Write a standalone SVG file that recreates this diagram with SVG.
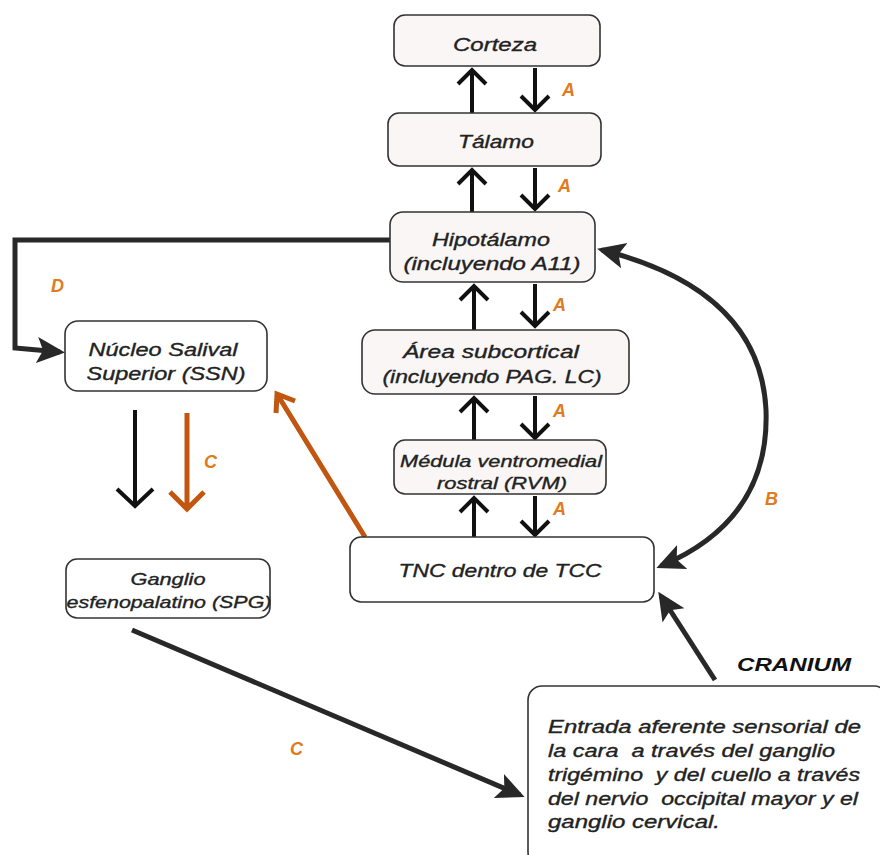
<svg xmlns="http://www.w3.org/2000/svg" width="880" height="855" viewBox="0 0 880 855">
<defs>
<style>
.box{fill:#f9f6f5;stroke:#333;stroke-width:1.6}
.wbox{fill:#fff;stroke:#333;stroke-width:1.6}
.t{font-family:"Liberation Sans",Arial,sans-serif;font-style:italic;font-size:18px;fill:#222;stroke:#222;stroke-width:0.35;text-anchor:middle}
.tl{font-family:"Liberation Sans",Arial,sans-serif;font-style:italic;font-size:18px;fill:#222;stroke:#222;stroke-width:0.35}
.lbl{font-family:"Liberation Sans",Arial,sans-serif;font-style:italic;font-weight:bold;font-size:18px;fill:#e07b20}
.v{fill:none;stroke:#111;stroke-width:4}
.vo{fill:none;stroke:#c0560f;stroke-width:5}
.k{fill:none;stroke:#282828;stroke-width:5}
</style>
<marker id="ah" markerUnits="userSpaceOnUse" markerWidth="32" markerHeight="32" refX="23" refY="13" orient="auto-start-reverse" viewBox="0 0 32 26">
<path d="M0,0 L28,13 L0,26 L6,13 Z" fill="#282828"/>
</marker>
</defs>
<g id="connectors">
<path class="v" d="M472,113 V70 M458,84 L472,70 L486,84"/>
<path class="v" d="M535,68 V110 M521,96 L535,110 L549,96"/>
<path class="v" d="M472,212 V170 M458,184 L472,170 L486,184"/>
<path class="v" d="M535,168 V209 M521,195 L535,209 L549,195"/>
<path class="v" d="M474,330 V286 M460,300 L474,286 L488,300"/>
<path class="v" d="M535,284 V326 M521,312 L535,326 L549,312"/>
<path class="v" d="M474,440 V398 M460,412 L474,398 L488,412"/>
<path class="v" d="M535,396 V438 M521,424 L535,438 L549,424"/>
<path class="v" d="M474,537 V498 M460,512 L474,498 L488,512"/>
<path class="v" d="M535,496 V535 M521,521 L535,535 L549,521"/>
<path class="v" d="M135,410 V506 M117,489 L135,506 L153,489"/>
<path class="vo" d="M187,413 V509 M170,492 L187,509 L204,492"/>
<path class="vo" d="M365,537 L277,394 M276,413 L277,394 L295,401"/>
<path class="k" d="M390,240 H15 V348 L60,352" marker-end="url(#ah)"/>
<path class="k" d="M602,250 Q760,290 766,410 Q770,520 661,566" marker-start="url(#ah)" marker-end="url(#ah)"/>
<path class="k" d="M715,680 L661,596" marker-end="url(#ah)"/>
<path class="k" d="M132,630 L520,795" marker-end="url(#ah)"/>
</g>
<g id="corteza"><rect class="box" x="394" y="15" width="206" height="51" rx="11"/><text class="t" x="495" y="51" textLength="84" lengthAdjust="spacingAndGlyphs">Corteza</text></g>
<g id="talamo"><rect class="box" x="388" y="113" width="213" height="53" rx="11"/><text class="t" x="496" y="148" textLength="76" lengthAdjust="spacingAndGlyphs">Tálamo</text></g>
<g id="hipotalamo"><rect class="box" x="390" y="212" width="205" height="70" rx="13"/><text class="t" x="491" y="246" textLength="118" lengthAdjust="spacingAndGlyphs">Hipotálamo</text><text class="t" x="492" y="270" textLength="177" lengthAdjust="spacingAndGlyphs">(incluyendo A11)</text></g>
<g id="area"><rect class="box" x="362" y="330" width="267" height="64" rx="13"/><text class="t" x="491" y="358" textLength="176" lengthAdjust="spacingAndGlyphs">Área subcortical</text><text class="t" x="492" y="383" textLength="219" lengthAdjust="spacingAndGlyphs">(incluyendo PAG. LC)</text></g>
<g id="medula"><rect class="box" x="394" y="440" width="212" height="54" rx="11"/><text class="t" x="501" y="467" textLength="202" lengthAdjust="spacingAndGlyphs" style="font-size:17px">Médula ventromedial</text><text class="t" x="502" y="489" textLength="130" lengthAdjust="spacingAndGlyphs" style="font-size:17px">rostral (RVM)</text></g>
<g id="tnc"><rect class="wbox" x="350" y="537" width="304" height="65" rx="11"/><text class="t" x="500" y="577" textLength="203" lengthAdjust="spacingAndGlyphs">TNC dentro de TCC</text></g>
<g id="ssn"><rect class="wbox" x="65" y="321" width="202" height="70" rx="13"/><text class="t" x="163" y="356" textLength="149" lengthAdjust="spacingAndGlyphs">Núcleo Salival</text><text class="t" x="166" y="380" textLength="159" lengthAdjust="spacingAndGlyphs">Superior (SSN)</text></g>
<g id="spg"><rect class="wbox" x="66" y="559" width="204" height="59" rx="11"/><text class="t" x="168" y="585" textLength="75" lengthAdjust="spacingAndGlyphs" style="font-size:17px">Ganglio</text><text class="t" x="169" y="608" textLength="205" lengthAdjust="spacingAndGlyphs" style="font-size:17px">esfenopalatino (SPG)</text></g>
<g id="entrada"><rect class="wbox" x="528" y="686" width="360" height="180" rx="14"/>
<text class="tl" x="548" y="733" textLength="313" lengthAdjust="spacingAndGlyphs">Entrada aferente sensorial de</text>
<text class="tl" x="548" y="757" textLength="287" lengthAdjust="spacingAndGlyphs" xml:space="preserve">la cara  a través del ganglio</text>
<text class="tl" x="548" y="781" textLength="312" lengthAdjust="spacingAndGlyphs" xml:space="preserve">trigémino  y del cuello a través</text>
<text class="tl" x="548" y="805" textLength="310" lengthAdjust="spacingAndGlyphs" xml:space="preserve">del nervio  occipital mayor y el</text>
<text class="tl" x="548" y="828" textLength="172" lengthAdjust="spacingAndGlyphs">ganglio cervical.</text></g>
<g id="labels">
<text class="lbl" x="737" y="671" textLength="114" lengthAdjust="spacingAndGlyphs" style="fill:#111">CRANIUM</text>
<text class="lbl" x="562" y="96">A</text>
<text class="lbl" x="558" y="192">A</text>
<text class="lbl" x="553" y="311">A</text>
<text class="lbl" x="553" y="417">A</text>
<text class="lbl" x="553" y="515">A</text>
<text class="lbl" x="51" y="292">D</text>
<text class="lbl" x="204" y="468">C</text>
<text class="lbl" x="765" y="505">B</text>
<text class="lbl" x="290" y="755">C</text>
</g>
</svg>
